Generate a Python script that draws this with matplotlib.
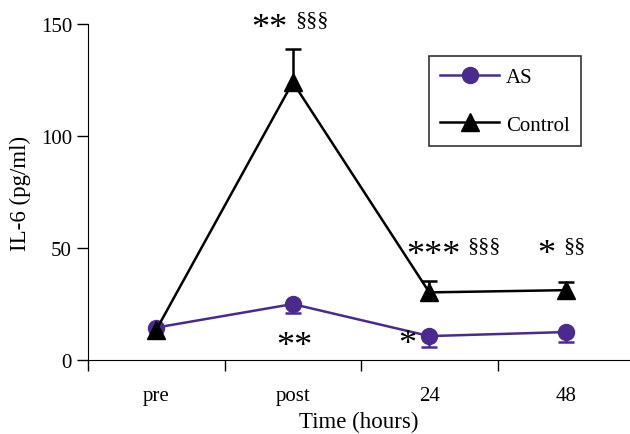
import numpy as np
import matplotlib.pyplot as plt

plt.rcParams['font.family'] = ['Liberation Serif', 'DejaVu Serif']

# data
times = ["pre", "post", "24", "48"]
as_mean = [14.5, 25.0, 10.7, 12.5]
as_err_down = [0, 3.8, 5.0, 4.5]
ctrl_mean = [13.5, 124.0, 30.2, 31.2]
ctrl_err_up = [0, 14.8, 5.0, 3.6]

purple = "#4a2a8f"

fig = plt.figure(figsize=(6.3, 4.35), dpi=100)
ax = fig.add_axes([0.1397, 0.170, 0.8603, 0.7725])

x = np.arange(len(times))

# lines + markers
ax.plot(x, as_mean, color=purple, lw=1.8, marker="o", ms=11.5,
        label="AS", zorder=3)
ax.plot(x, ctrl_mean, color="black", lw=1.8, marker="^", ms=13.5,
        label="Control", zorder=4)

# one-sided error bars (AS down, Control up), pre has none
as_m = np.array(as_mean)
ctrl_m = np.array(ctrl_mean)
_, caps, _ = ax.errorbar(x[1:], as_m[1:], yerr=[as_err_down[1:], [0] * 3],
                         fmt="none", ecolor=purple, elinewidth=1.8,
                         capsize=6, capthick=1.8, zorder=2)
caps[1].set_visible(False)
_, caps, _ = ax.errorbar(x[1:], ctrl_m[1:], yerr=[[0] * 3, ctrl_err_up[1:]],
                         fmt="none", ecolor="black", elinewidth=1.8,
                         capsize=6, capthick=1.8, zorder=2)
caps[0].set_visible(False)

ax.set_xlim(-0.5, 3.47)
ax.set_ylim(0, 150)
ax.set_yticks([0, 50, 100, 150])
ax.set_xticks([-0.5, 0.5, 1.5, 2.5])
ax.set_xticklabels([])
ax.set_xticks(x, minor=True)
ax.set_xticklabels(times, minor=True)
ax.tick_params(axis="x", which="minor", length=0, pad=19, labelsize=15)
ax.tick_params(axis="x", which="major", direction="out", length=8, width=1)
ax.tick_params(axis="y", direction="out", length=8, width=1, labelsize=15)

for s in ["top", "right"]:
    ax.spines[s].set_visible(False)

ax.set_xlabel("Time (hours)", fontsize=16.5, labelpad=4)
ax.set_ylabel("IL-6 (pg/ml)", fontsize=16.5, labelpad=7)

# significance marks
star = dict(fontsize=26, ha="center", va="center", clip_on=False)
sect = dict(fontsize=16, ha="center", va="center", clip_on=False)
ax.text(0.83, 148, "**", **star)
ax.text(1.14, 152, "§§§", **sect)
ax.text(2.03, 46.5, "***", **star)
ax.text(2.40, 51.3, "§§§", **sect)
ax.text(2.86, 47, "*", **star)
ax.text(3.06, 51.3, "§§", **sect)
ax.text(1.01, 6.0, "**", **star)
ax.text(1.84, 6.8, "*", **star)

leg = ax.legend(loc="upper left", bbox_to_anchor=(0.681, 0.869),
                bbox_transform=fig.transFigure, fontsize=15,
                frameon=True, fancybox=False, edgecolor="black",
                labelspacing=1.35, handlelength=2.8, borderpad=0.55,
                handletextpad=0.35, borderaxespad=0)
leg.get_frame().set_linewidth(1.2)

fig.savefig("out.png", dpi=100)
